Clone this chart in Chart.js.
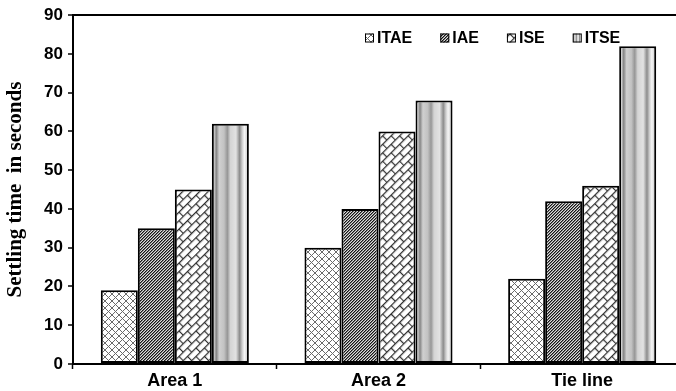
<!DOCTYPE html>
<html>
<head>
<meta charset="utf-8">
<script src="https://cdn.jsdelivr.net/npm/chart.js@4"></script>
<style>
  html, body { margin: 0; padding: 0; background: #fff; overflow: hidden; }
  #wrap { width: 676px; height: 391px; overflow: hidden; position: relative; background: #fff; }
  #chart { display: block; }
</style>
</head>
<body>
<div id="wrap"><canvas id="chart" width="685" height="391" style="width:685px;height:391px"></canvas></div>
<script>
// Settling time (s) per control area for each performance index
const categories = ['Area 1', 'Area 2', 'Tie line'];
const seriesNames = ['ITAE', 'IAE', 'ISE', 'ITSE'];
const itae = [19, 30, 22];
const iae  = [35, 40, 42];
const ise  = [45, 60, 46];
const itse = [62, 68, 82];
const yTicks = [0, 10, 20, 30, 40, 50, 60, 70, 80, 90];

const CAT_PCT = 0.727;
const canvas = document.getElementById('chart');
const ctx0 = canvas.getContext('2d');

function tile(w, h, draw) {
  const c = document.createElement('canvas');
  c.width = w; c.height = h;
  draw(c.getContext('2d'));
  return c;
}

// diamond cross-hatch
const crossFill = ctx0.createPattern(tile(7, 7, g => {
  g.fillStyle = '#fff'; g.fillRect(0, 0, 7, 7);
  g.fillStyle = '#6a6a6a';
  for (let i = 0; i < 7; i++) { g.fillRect(i, i, 1, 1); g.fillRect(6 - i, i, 1, 1); }
}), 'repeat');

// dense diagonal stripes
const stripeFill = ctx0.createPattern(tile(3, 3, g => {
  g.fillStyle = '#dcdcdc'; g.fillRect(0, 0, 3, 3);
  for (let y = 0; y < 3; y++) {
    g.fillStyle = '#151515'; g.fillRect((2 - y + 3) % 3, y, 1, 1);
    g.fillStyle = '#7a7a7a'; g.fillRect((3 - y) % 3, y, 1, 1);
  }
}), 'repeat');

// diagonal brick
const brickFill = ctx0.createPattern(tile(12, 12, g => {
  g.fillStyle = '#fff'; g.fillRect(0, 0, 12, 12);
  g.strokeStyle = '#303030'; g.lineWidth = 1.25;
  g.beginPath();
  g.moveTo(0, 0.5); g.lineTo(12, 0.5);
  g.moveTo(0, 6.5); g.lineTo(12, 6.5);
  g.moveTo(0.5, 0.5); g.lineTo(0.5, 6.5);
  g.moveTo(6.5, 6.5); g.lineTo(6.5, 12);
  g.stroke();
}), 'repeat');
brickFill.setTransform(new DOMMatrix().rotate(-45));

// fluted metallic column shading
const metalStops = [
  [0.00, '#bdbdbd'], [0.04, '#e8e8e8'], [0.12, '#858585'], [0.20, '#d0d0d0'],
  [0.33, '#c2c2c2'], [0.42, '#969696'], [0.50, '#d4d4d4'], [0.65, '#e2e2e2'],
  [0.75, '#8c8c8c'], [0.82, '#cdcdcd'], [0.88, '#f5f5f5'], [0.96, '#d0d0d0'], [1.00, '#a0a0a0']
];
function metalGradient(g, x0, x1) {
  const gr = g.createLinearGradient(x0, 0, x1, 0);
  metalStops.forEach(s => gr.addColorStop(s[0], s[1]));
  return gr;
}
function itseFill(c) {
  const chart = c.chart;
  const xs = chart.scales && chart.scales.x;
  if (!xs || !chart.chartArea || c.dataIndex === undefined) return '#c8c8c8';
  const n = chart.data.labels.length;
  const groupW = xs.width / n * CAT_PCT;
  const center = xs.getPixelForValue(c.dataIndex);
  return metalGradient(chart.ctx, center + groupW / 4, center + groupW / 2);
}

const fills = [crossFill, stripeFill, brickFill, itseFill];
const values = [itae, iae, ise, itse];

// legend drawn inside the plot, top right
const boxLegend = {
  id: 'boxLegend',
  afterDraw(chart) {
    const g = chart.ctx;
    g.save();
    g.font = 'bold 16px "Liberation Sans", Arial, sans-serif';
    g.textBaseline = 'middle';
    g.textAlign = 'left';
    let x = 365;
    const yMid = 38.5, box = 9;
    chart.data.datasets.forEach((ds, i) => {
      const bx = x, by = 33.5;
      g.fillStyle = i === 3 ? metalGradient(g, bx, bx + box) : fills[i];
      g.fillRect(bx, by, box, box);
      g.strokeStyle = '#000'; g.lineWidth = 1;
      g.strokeRect(bx + 0.5, by + 0.5, box - 1, box - 1);
      g.fillStyle = '#000';
      g.fillText(ds.label, bx + box + 3, yMid);
      x = bx + box + 3 + g.measureText(ds.label).width + 28;
    });
    g.restore();
  }
};

new Chart(canvas, {
  type: 'bar',
  data: {
    labels: categories,
    datasets: seriesNames.map((name, i) => ({
      label: name,
      data: values[i],
      backgroundColor: fills[i],
      borderColor: '#000',
      borderWidth: 2,
      borderSkipped: false,
      categoryPercentage: CAT_PCT,
      barPercentage: 1.0
    }))
  },
  options: {
    responsive: false,
    animation: false,
    devicePixelRatio: 1,
    layout: { padding: { top: 15, right: 1, left: 0, bottom: 0 } },
    plugins: { legend: { display: false }, tooltip: { enabled: false } },
    scales: {
      x: {
        offset: true,
        grid: {
          display: true, drawOnChartArea: false, drawTicks: true,
          tickLength: 5, color: '#000', tickColor: '#000', tickWidth: 1.5, offset: true
        },
        border: { display: true, color: '#000', width: 2 },
        ticks: {
          color: '#000', padding: 1,
          font: { family: '"Liberation Sans", Arial, sans-serif', size: 18, weight: 'bold' }
        },
        afterFit(scale) { scale.height = 27; }
      },
      y: {
        min: 0, max: 90,
        afterBuildTicks(scale) { scale.ticks = yTicks.map(v => ({ value: v })); },
        grid: {
          display: true, drawOnChartArea: true, drawTicks: true, tickLength: 5,
          color: c => (c.tick && c.tick.value === 90 ? '#000' : 'rgba(0,0,0,0)'),
          lineWidth: 2, tickColor: '#000', tickWidth: 1.5
        },
        border: { display: true, color: '#000', width: 2 },
        ticks: {
          color: '#000', padding: 5,
          font: { family: '"Liberation Sans", Arial, sans-serif', size: 17, weight: 'bold' }
        },
        title: {
          display: true,
          text: 'Settling time  in seconds',
          color: '#000',
          padding: { top: 3, bottom: 0 },
          font: { family: '"Liberation Serif", "Times New Roman", serif', size: 21, weight: 'bold' }
        },
        afterFit(scale) { scale.width = 73; }
      }
    }
  },
  plugins: [boxLegend]
});
</script>
</body>
</html>
